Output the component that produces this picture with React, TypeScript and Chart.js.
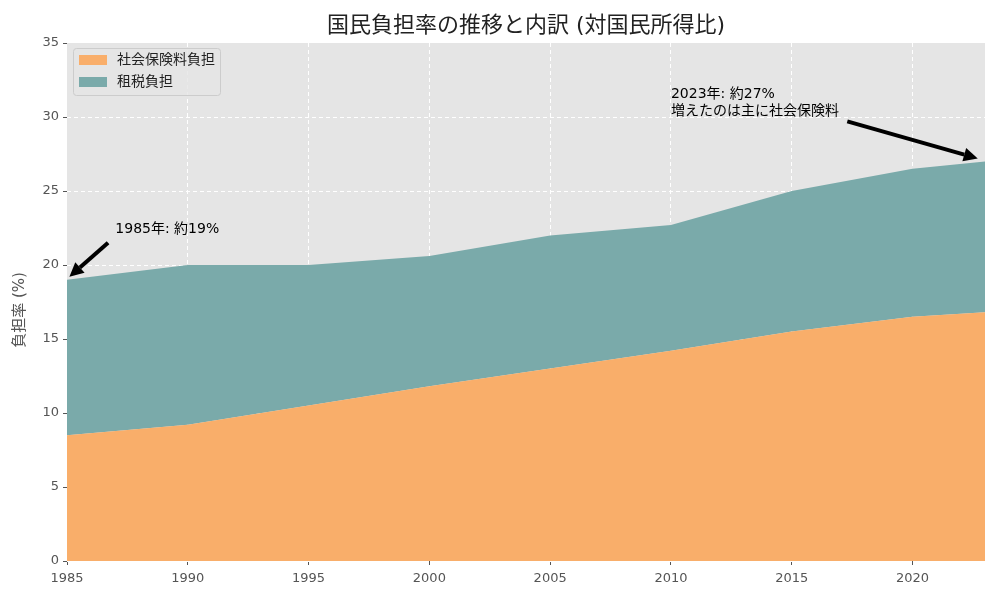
import React, { useEffect, useRef } from 'react';
import { Chart, registerables, Plugin } from 'chart.js';

Chart.register(...registerables);

const years = [1985, 1990, 1995, 2000, 2005, 2010, 2015, 2020, 2023];
const socialInsurance = [8.5, 9.2, 10.5, 11.8, 13.0, 14.2, 15.5, 16.5, 16.8];
const taxBurden = [10.5, 10.8, 9.5, 8.8, 9.0, 8.5, 9.5, 10.0, 10.2];
const xTicks = [1985, 1990, 1995, 2000, 2005, 2010, 2015, 2020];
const seriesLabels = ['社会保険料負担', '租税負担'];
const seriesColors = ['rgb(249,174,106)', 'rgb(122,170,170)'];

// annotation text positions and arrows, in data units
const notes = [
  { lines: ['1985年: 約19%'], at: [1987, 22], tail: [1986.7, 21.5], head: [1985.1, 19.2] },
  { lines: ['2023年: 約27%', '増えたのは主に社会保険料'], at: [2010, 30], tail: [2017.3, 29.7], head: [2022.7, 27.2] },
];

const FONT = '"DejaVu Sans", "Noto Sans CJK JP", sans-serif';

const bgPlugin: Plugin = {
  id: 'plotBg',
  beforeDraw(chart) {
    const { ctx, chartArea: a } = chart;
    ctx.save();
    ctx.fillStyle = '#e5e5e5';
    ctx.fillRect(a.left, a.top, a.right - a.left, a.bottom - a.top);
    ctx.restore();
  },
};

const overlayPlugin: Plugin = {
  id: 'overlay',
  afterDraw(chart) {
    const { ctx, chartArea: a, scales } = chart;
    const x = scales.x;
    const y = scales.y;
    ctx.save();

    // title
    ctx.fillStyle = '#222';
    ctx.font = `22px ${FONT}`;
    ctx.textAlign = 'center';
    ctx.textBaseline = 'middle';
    ctx.fillText('国民負担率の推移と内訳 (対国民所得比)', (a.left + a.right) / 2, 26);

    // y axis title
    ctx.save();
    ctx.translate(20, (a.top + a.bottom) / 2 + 8);
    ctx.rotate(-Math.PI / 2);
    ctx.fillStyle = '#555';
    ctx.font = `15px ${FONT}`;
    ctx.fillText('負担率 (%)', 0, 0);
    ctx.restore();

    // legend in top-left of plot
    const lx = a.left + 6;
    const ly = a.top + 5;
    ctx.fillStyle = 'rgba(229,229,229,0.8)';
    ctx.strokeStyle = '#cccccc';
    ctx.lineWidth = 1;
    ctx.beginPath();
    ctx.roundRect(lx + 0.5, ly + 0.5, 147, 47, 3);
    ctx.fill();
    ctx.stroke();
    ctx.font = `14px ${FONT}`;
    ctx.textAlign = 'left';
    ctx.textBaseline = 'middle';
    seriesLabels.forEach((lab, i) => {
      const cy = ly + 12 + i * 22;
      ctx.fillStyle = seriesColors[i];
      ctx.fillRect(lx + 6, cy - 5, 28, 10);
      ctx.fillStyle = '#222';
      ctx.fillText(lab, lx + 44, cy);
    });

    // annotations
    notes.forEach((n) => {
      ctx.fillStyle = '#000';
      ctx.font = `14px ${FONT}`;
      ctx.textAlign = 'left';
      ctx.textBaseline = 'alphabetic';
      const tx = x.getPixelForValue(n.at[0]);
      const ty = y.getPixelForValue(n.at[1]) - 2;
      n.lines.forEach((line, i) => {
        ctx.fillText(line, tx, ty - (n.lines.length - 1 - i) * 17);
      });
      const x0 = x.getPixelForValue(n.tail[0]);
      const y0 = y.getPixelForValue(n.tail[1]);
      const x1 = x.getPixelForValue(n.head[0]);
      const y1 = y.getPixelForValue(n.head[1]);
      const ang = Math.atan2(y1 - y0, x1 - x0);
      const hl = 14;
      const hw = 7;
      const bx = x1 - hl * Math.cos(ang);
      const by = y1 - hl * Math.sin(ang);
      ctx.strokeStyle = '#000';
      ctx.lineWidth = 4;
      ctx.beginPath();
      ctx.moveTo(x0, y0);
      ctx.lineTo(bx, by);
      ctx.stroke();
      ctx.beginPath();
      ctx.moveTo(x1, y1);
      ctx.lineTo(bx + hw * Math.sin(ang), by - hw * Math.cos(ang));
      ctx.lineTo(bx - hw * Math.sin(ang), by + hw * Math.cos(ang));
      ctx.closePath();
      ctx.fill();
    });
    ctx.restore();
  },
};

const App: React.FC = () => {
  const chartRef = useRef<HTMLCanvasElement | null>(null);
  const chartInstanceRef = useRef<Chart | null>(null);

  useEffect(() => {
    document.body.style.margin = '0';
    if (!chartRef.current) return;
    if (chartInstanceRef.current) chartInstanceRef.current.destroy();

    const grid = {
      // no grid line on the plot's edges
      color: (c: any) =>
        c.tick && (c.tick.value === 35 || c.tick.value === 1985) ? 'rgba(0,0,0,0)' : '#ffffff',
      lineWidth: 1,
      tickColor: '#555',
      tickBorderDash: [],
      tickLength: 4,
    };

    chartInstanceRef.current = new Chart(chartRef.current, {
      type: 'line',
      data: {
        datasets: [
          {
            label: seriesLabels[0],
            data: years.map((yr, i) => ({ x: yr, y: socialInsurance[i] })),
            backgroundColor: seriesColors[0],
            borderWidth: 0,
            pointRadius: 0,
            fill: 'origin',
          },
          {
            label: seriesLabels[1],
            data: years.map((yr, i) => ({ x: yr, y: taxBurden[i] })),
            backgroundColor: seriesColors[1],
            borderWidth: 0,
            pointRadius: 0,
            fill: '-1',
          },
        ],
      },
      options: {
        responsive: false,
        animation: false,
        layout: { padding: { top: 43, right: 15, left: 0, bottom: 0 } },
        plugins: {
          legend: { display: false },
          tooltip: { enabled: false },
        },
        scales: {
          x: {
            type: 'linear',
            min: 1985,
            max: 2023,
            afterBuildTicks: (axis) => {
              axis.ticks = xTicks.map((v) => ({ value: v }));
            },
            afterFit: (axis) => {
              axis.height = 39;
            },
            border: { display: false, dash: [4, 3] },
            grid,
            ticks: {
              color: '#555',
              font: { family: FONT, size: 13 },
              padding: 6,
              maxRotation: 0,
              callback: (v) => String(v),
            },
          },
          y: {
            stacked: true,
            min: 0,
            max: 35,
            afterFit: (axis) => {
              axis.width = 67;
            },
            border: { display: false, dash: [4, 3] },
            grid,
            ticks: {
              stepSize: 5,
              color: '#555',
              font: { family: FONT, size: 13 },
              padding: 4,
            },
          },
        },
      },
      plugins: [bgPlugin, overlayPlugin],
    });

    return () => {
      if (chartInstanceRef.current) {
        chartInstanceRef.current.destroy();
        chartInstanceRef.current = null;
      }
    };
  }, []);

  return <canvas ref={chartRef} width={1000} height={600} />;
};

export default App;
